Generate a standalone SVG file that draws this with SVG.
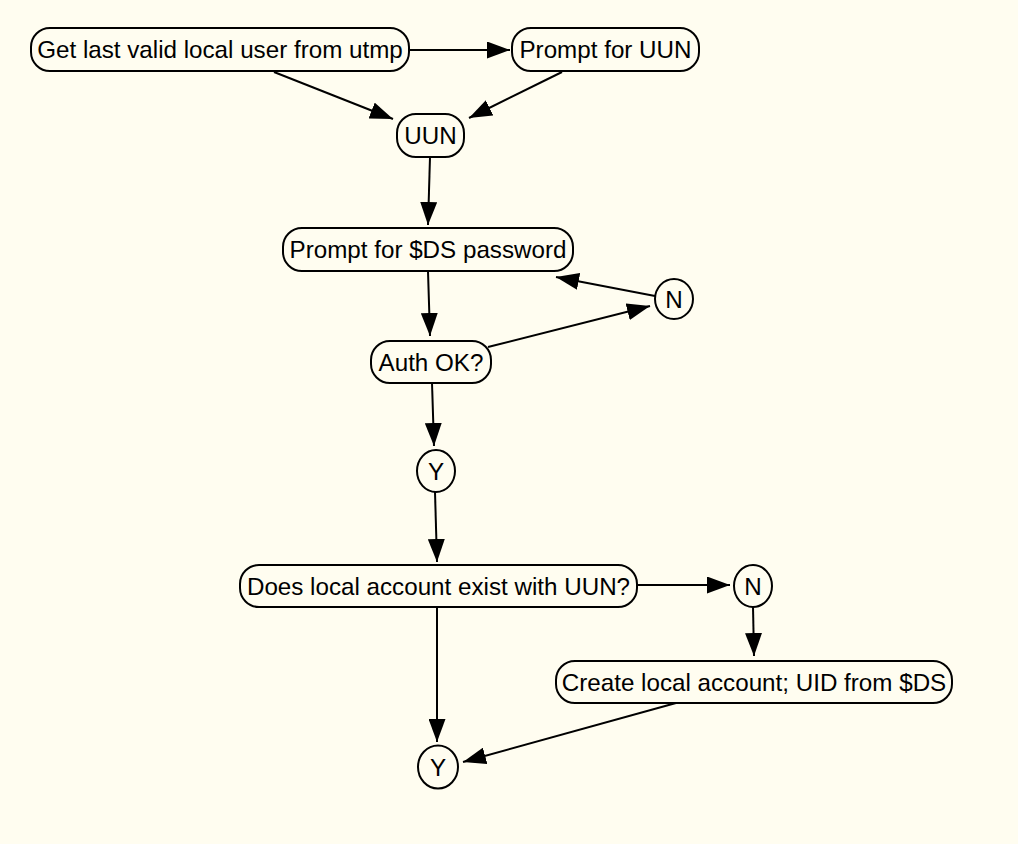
<svg xmlns="http://www.w3.org/2000/svg" width="1018" height="844" viewBox="0 0 1018 844">
<style>
.n rect, .n ellipse { fill: #fffdf0; stroke: #000; stroke-width: 2; }
.n text { font-family: "Liberation Sans", Arial, Helvetica, sans-serif; font-size: 24.2px; fill: #000; text-anchor: middle; }
.e line { stroke: #000; stroke-width: 2; marker-end: url(#ah); }
</style>
<defs>
<marker id="ah" markerUnits="userSpaceOnUse" markerWidth="23" markerHeight="17" refX="23" refY="8.5" orient="auto">
<path d="M0,0 L23,8.5 L0,17 z" fill="#000"/>
</marker>
</defs>
<rect width="1018" height="844" fill="#fffdf0"/>
<g class="e" id="connectors">
<line x1="410" y1="50" x2="510" y2="50"/>
<line x1="274" y1="72" x2="393" y2="119"/>
<line x1="562" y1="72" x2="469" y2="118"/>
<line x1="430" y1="157" x2="428" y2="225"/>
<line x1="428" y1="271" x2="430" y2="336"/>
<line x1="488" y1="347" x2="650" y2="306"/>
<line x1="655" y1="296" x2="556" y2="277"/>
<line x1="432" y1="383" x2="434" y2="446"/>
<line x1="435" y1="492" x2="437" y2="562"/>
<line x1="637" y1="585" x2="730" y2="585"/>
<line x1="753" y1="607" x2="754" y2="656"/>
<line x1="437" y1="607" x2="437" y2="742"/>
<line x1="676" y1="703" x2="463" y2="762"/>
</g>
<g class="n" id="n1"><rect x="31" y="28" width="378" height="43" rx="19"/><text x="220" y="58">Get last valid local user from utmp</text></g>
<g class="n" id="n2"><rect x="512" y="28" width="187" height="43" rx="19"/><text x="605.5" y="58">Prompt for UUN</text></g>
<g class="n" id="n3"><rect x="397" y="114" width="67" height="43" rx="19"/><text x="430.5" y="144">UUN</text></g>
<g class="n" id="n4"><rect x="283" y="228" width="290" height="43" rx="19"/><text x="428" y="258">Prompt for $DS password</text></g>
<g class="n" id="n5"><ellipse cx="674" cy="299" rx="19" ry="20"/><text x="674" y="307.5">N</text></g>
<g class="n" id="n6"><rect x="371" y="341" width="120" height="42" rx="19"/><text x="431" y="370.5">Auth OK?</text></g>
<g class="n" id="n7"><ellipse cx="436" cy="471" rx="19" ry="21"/><text x="436" y="479.5">Y</text></g>
<g class="n" id="n8"><rect x="240" y="565" width="397" height="42" rx="19"/><text x="438.5" y="594.5">Does local account exist with UUN?</text></g>
<g class="n" id="n9"><ellipse cx="753" cy="586" rx="19" ry="21"/><text x="753" y="594.5">N</text></g>
<g class="n" id="n10"><rect x="556" y="661" width="396" height="42" rx="19"/><text x="754" y="690.5">Create local account; UID from $DS</text></g>
<g class="n" id="n11"><ellipse cx="438" cy="767" rx="20" ry="21.5"/><text x="438" y="775.5">Y</text></g>
</svg>
